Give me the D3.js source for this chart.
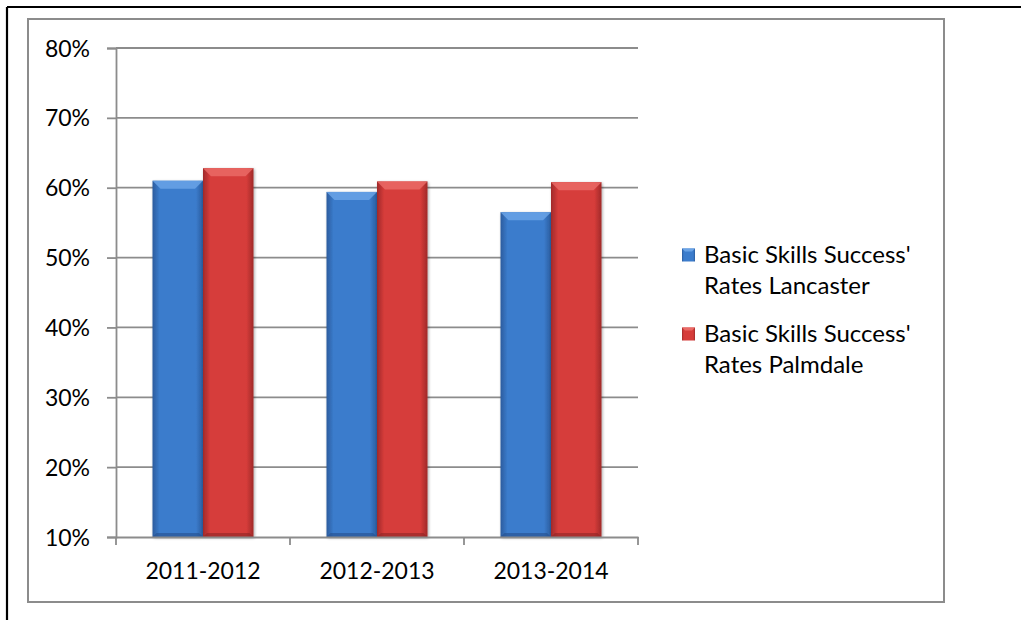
<!DOCTYPE html>
<html>
<head>
<meta charset="utf-8">
<script src="https://cdn.jsdelivr.net/npm/d3@7"></script>
<style>
  html, body { margin: 0; padding: 0; background: #fff; }
  svg text { font-family: Lato, "Open Sans", sans-serif; fill: #000; }
</style>
</head>
<body>
<div id="plot"></div>
<script>
// data
var categories = ["2011-2012", "2012-2013", "2013-2014"];
var seriesNames = ["Basic Skills Success' Rates Lancaster", "Basic Skills Success' Rates Palmdale"];
var lancaster = [0.610, 0.594, 0.565];
var palmdale = [0.628, 0.609, 0.608];
var yTicks = [0.1, 0.2, 0.3, 0.4, 0.5, 0.6, 0.7, 0.8];
var legendLines = [["Basic Skills Success'", "Rates Lancaster"], ["Basic Skills Success'", "Rates Palmdale"]];

var W = 1021, H = 620;
var margin = {top: 48, left: 116, right: 383, bottom: 83};
var width = W - margin.left - margin.right,
    height = H - margin.top - margin.bottom;
var fontSize = "23px";

var svg = d3.select("#plot").append("svg")
    .attr("width", W)
    .attr("height", H);

// colours per series
var pal = [
  {edge: "#2b5c9e", mid: "#3b7ccc", light: "#6aa3e6", dark: "#244f8c"},
  {edge: "#a02a2a", mid: "#d63c3a", light: "#ea6a66", dark: "#8e2424"}
];

var defs = svg.append("defs");
pal.forEach(function(p, i) {
  var g = defs.append("linearGradient").attr("id", "grad" + i)
      .attr("x1", "0%").attr("x2", "100%").attr("y1", "0%").attr("y2", "0%");
  g.append("stop").attr("offset", "0%").attr("stop-color", p.edge);
  g.append("stop").attr("offset", "14%").attr("stop-color", p.mid);
  g.append("stop").attr("offset", "86%").attr("stop-color", p.mid);
  g.append("stop").attr("offset", "100%").attr("stop-color", p.edge);
});
var sh = defs.append("filter").attr("id", "shadow").attr("x", "-20%").attr("y", "-5%").attr("width", "140%").attr("height", "110%");
sh.append("feGaussianBlur").attr("in", "SourceAlpha").attr("stdDeviation", 1.5);
sh.append("feOffset").attr("dx", 1).attr("dy", 1).attr("result", "b");
sh.append("feComponentTransfer").append("feFuncA").attr("type", "linear").attr("slope", 0.35);
var fm = sh.append("feMerge");
fm.append("feMergeNode");
fm.append("feMergeNode").attr("in", "SourceGraphic");

// frames
svg.append("line").attr("x1", 7).attr("x2", W).attr("y1", 7).attr("y2", 7)
    .attr("stroke", "#000").attr("stroke-width", 2.2);
svg.append("line").attr("x1", 7).attr("x2", 7).attr("y1", 7).attr("y2", H)
    .attr("stroke", "#000").attr("stroke-width", 2.2);
svg.append("rect").attr("x", 28).attr("y", 19).attr("width", 916).attr("height", 583)
    .attr("fill", "none").attr("stroke", "#8c8c8c").attr("stroke-width", 2);

var chart = svg.append("g")
    .attr("transform", "translate(" + margin.left + "," + margin.top + ")");

var x0 = d3.scaleBand().domain(categories).range([0, width]).padding(0);
var x1 = d3.scaleBand().domain([0, 1]).range([0, x0.bandwidth()])
    .paddingInner(0).paddingOuter(0.723);
var y = d3.scaleLinear().domain([0.1, 0.8]).range([height, 0]);

// gridlines + y axis
var yAxis = chart.append("g")
    .call(d3.axisLeft(y).tickValues(yTicks).tickFormat(d3.format(".0%"))
      .tickSize(9).tickPadding(17));
yAxis.select(".domain").attr("stroke", "#8c8c8c").attr("stroke-width", 1.8);
yAxis.selectAll(".tick line").attr("stroke", "#8c8c8c").attr("stroke-width", 1.8);
yAxis.selectAll(".tick text").style("font-size", fontSize).attr("dy", "0.35em");

chart.append("g").selectAll("line.grid")
    .data(yTicks.slice(1))
    .enter().append("line")
    .attr("class", "grid")
    .attr("x1", 0).attr("x2", width)
    .attr("y1", function(d) { return y(d); })
    .attr("y2", function(d) { return y(d); })
    .attr("stroke", "#8c8c8c").attr("stroke-width", 1.8);

// bars
var rows = categories.map(function(c, i) { return {cat: c, vals: [lancaster[i], palmdale[i]]}; });
var bev = 8;
var groups = chart.selectAll("g.cat").data(rows).enter().append("g")
    .attr("class", "cat")
    .attr("transform", function(d) { return "translate(" + x0(d.cat) + ",0)"; });
var bars = groups.selectAll("g.bar")
    .data(function(d) { return d.vals.map(function(v, s) { return {v: v, s: s}; }); })
    .enter().append("g").attr("class", "bar");
bars.append("rect")
    .attr("x", function(d) { return x1(d.s); })
    .attr("y", function(d) { return y(d.v); })
    .attr("width", x1.bandwidth())
    .attr("height", function(d) { return y(0.1) - y(d.v); })
    .attr("fill", function(d) { return "url(#grad" + d.s + ")"; })
    .attr("filter", "url(#shadow)");
// top bevel
bars.append("path")
    .attr("d", function(d) {
      var xl = x1(d.s), xr = xl + x1.bandwidth(), yt = y(d.v);
      return "M" + xl + "," + yt + "L" + xr + "," + yt + "L" + (xr - bev) + "," + (yt + bev) +
             "L" + (xl + bev) + "," + (yt + bev) + "Z";
    })
    .attr("fill", function(d) { return pal[d.s].light; })
    .attr("opacity", 0.85);
// bottom bevel
bars.append("path")
    .attr("d", function(d) {
      var xl = x1(d.s), xr = xl + x1.bandwidth(), yb = y(0.1);
      return "M" + xl + "," + yb + "L" + xr + "," + yb + "L" + (xr - 4) + "," + (yb - 4) +
             "L" + (xl + 4) + "," + (yb - 4) + "Z";
    })
    .attr("fill", function(d) { return pal[d.s].dark; })
    .attr("opacity", 0.6);

// x axis
var xAxis = chart.append("g")
    .attr("transform", "translate(0," + height + ")")
    .call(d3.axisBottom(x0).tickSize(0));
xAxis.select(".domain").attr("stroke", "#8c8c8c").attr("stroke-width", 1.8);
xAxis.selectAll(".tick text").style("font-size", fontSize)
    .attr("y", 34).attr("dy", "0.35em");
xAxis.selectAll("line.sep")
    .data(d3.range(categories.length + 1))
    .enter().append("line").attr("class", "sep")
    .attr("x1", function(i) { return i * x0.bandwidth(); })
    .attr("x2", function(i) { return i * x0.bandwidth(); })
    .attr("y1", 0).attr("y2", 8)
    .attr("stroke", "#8c8c8c").attr("stroke-width", 1.8);

// legend
var legend = svg.append("g").attr("transform", "translate(682,255)");
var items = legend.selectAll("g.item").data(legendLines).enter().append("g")
    .attr("class", "item")
    .attr("transform", function(d, i) { return "translate(0," + (i * 79) + ")"; });
items.append("rect")
    .attr("y", -6.5)
    .attr("width", 13).attr("height", 13)
    .attr("fill", function(d, i) { return "url(#grad" + i + ")"; });
items.append("path")
    .attr("d", "M0,-6.5L13,-6.5L10,-3.5L3,-3.5Z")
    .attr("fill", function(d, i) { return pal[i].light; });
items.selectAll("text").data(function(d) { return d; }).enter().append("text")
    .attr("x", 22)
    .attr("y", function(d, j) { return j * 31; })
    .attr("dy", "0.35em")
    .style("font-size", "24px")
    .text(function(d) { return d; });
</script>
</body>
</html>
